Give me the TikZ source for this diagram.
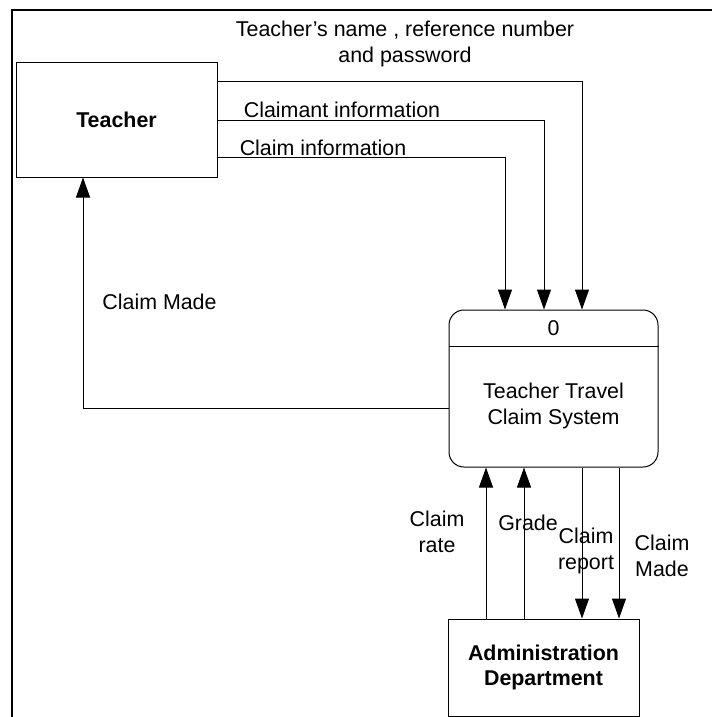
\documentclass[tikz,border=0pt]{standalone}
\usepackage{fontspec}
\setmainfont{Liberation Sans}
\usetikzlibrary{arrows.meta,calc}
\tikzset{
  flow/.style={line width=1pt,-{Triangle[length=20pt,width=14pt]}},
  lbl/.style={inner sep=0pt,align=center,font=\fontsize{21.4}{25.5}\selectfont},
  entity/.style={draw,line width=1pt,inner sep=0pt,align=center,font=\fontsize{21.4}{25.5}\selectfont\bfseries},
  proc/.style={draw,line width=1pt,rounded corners=15pt,inner sep=0pt},
}
\begin{document}
\begin{tikzpicture}[x=1pt,y=-1pt]
\useasboundingbox (0,0) rectangle (712,717);
% frame
\draw[line width=2pt] (11.5,717) -- (11.5,10) -- (712,10);
% nodes
\node[entity,minimum width=201pt,minimum height=114pt] (teacher) at (116.5,120) {Teacher};
\node[proc,minimum width=209pt,minimum height=157pt] (process) at (553.5,388.5) {};
\node[entity,minimum width=191pt,minimum height=97pt] (admin) at (543.5,667.5) {Administration\\Department};
\coordinate (dl) at ($(process.north west)+(0,37)$);
\coordinate (dr) at ($(process.north east)+(0,37)$);
\draw[line width=1pt] (dl) -- (dr);
\node[lbl] (pnum) at (553.5,328) {0};
\node[lbl] (pname) at (553.5,406) {Teacher Travel\\Claim System};
% flows teacher -> process
\draw[flow] ($(teacher.north east)+(0,19)$) -| ($(process.north)+(28.5,0)$);
\draw[flow] ($(teacher.north east)+(0,58)$) -| ($(process.north)+(-9.5,0)$);
\draw[flow] ($(teacher.north east)+(0,95)$) -| ($(process.north)+(-48.5,0)$);
% process -> teacher
\draw[flow] ($(process.west)+(0,19.5)$) -| ($(teacher.south)+(-33.5,0)$);
% admin <-> process
\coordinate (u1) at ($(admin.north)+(-57.5,0)$);
\coordinate (u2) at ($(admin.north)+(-19.5,0)$);
\coordinate (d1) at ($(process.south)+(28.5,0)$);
\coordinate (d2) at ($(process.south)+(65.5,0)$);
\draw[flow] (u1) -- (u1 |- process.south);
\draw[flow] (u2) -- (u2 |- process.south);
\draw[flow] (d1) -- (d1 |- admin.north);
\draw[flow] (d2) -- (d2 |- admin.north);
% labels
\node[lbl] (l1) at (405,44) {Teacher’s name , reference number\\and password};
\node[lbl] (l2) at (342,110) {Claimant information};
\node[lbl] (l3) at (323,148) {Claim information};
\node[lbl] (l4) at (159.5,302) {Claim Made};
\node[lbl] (l5) at (437,532) {Claim\\rate};
\node[lbl] (l6) at (528,523) {Grade};
\node[lbl] (l7) at (586,551) {Claim\\report};
\node[lbl] (l8) at (662,556) {Claim\\Made};
\end{tikzpicture}
\end{document}
